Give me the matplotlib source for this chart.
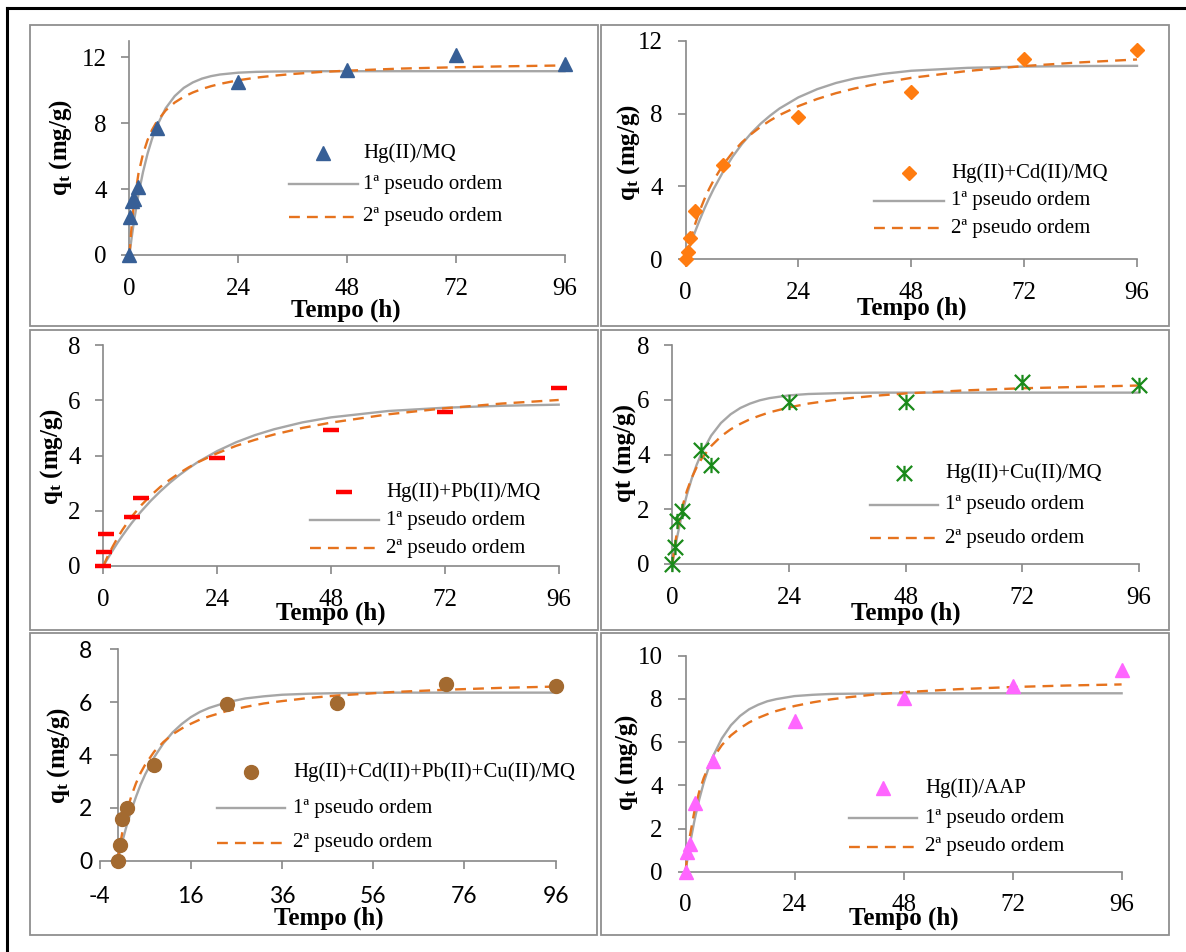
import matplotlib
matplotlib.use('Agg')
import matplotlib.pyplot as plt
from matplotlib.path import Path
from matplotlib.lines import Line2D
from matplotlib.patches import Rectangle

plt.rcParams['font.family'] = ['Liberation Serif', 'DejaVu Serif']
plt.rcParams['mathtext.fontset'] = 'custom'
plt.rcParams['mathtext.rm'] = 'Liberation Serif'
plt.rcParams['mathtext.it'] = 'Liberation Serif:italic'
plt.rcParams['mathtext.bf'] = 'Liberation Serif:bold'
plt.rcParams['axes.unicode_minus'] = False

# ---------------- data ----------------
T_FIT = [0, 0.5, 1, 2, 3, 4, 5, 6, 8, 10, 12, 14, 16, 18, 20, 24, 28, 32, 36, 42, 48, 60, 72, 84, 96]

# Hg(II)/MQ
T_HG = [0, 0.083, 0.5, 1, 2, 6, 24, 48, 72, 96]
Q_HG = [0, 2.28, 3.25, 3.4, 4.1, 7.73, 10.5, 11.2, 12.15, 11.6]
F1_HG = [0, 1.06, 2.02, 3.68, 5.03, 6.14, 7.05, 7.79, 8.90, 9.64, 10.14, 10.47, 10.70, 10.85, 10.95, 11.06, 11.11, 11.13, 11.14, 11.15, 11.15, 11.15, 11.15, 11.15, 11.15]
F2_HG = [0, 1.80, 3.12, 4.94, 6.13, 6.97, 7.59, 8.07, 8.77, 9.25, 9.60, 9.86, 10.07, 10.24, 10.38, 10.60, 10.76, 10.88, 10.98, 11.10, 11.18, 11.31, 11.39, 11.45, 11.50]

# Hg(II)+Cd(II)/MQ
T_CD = [0, 0.5, 1, 2, 8, 24, 48, 72, 96]
Q_CD = [0, 0.42, 1.19, 2.65, 5.18, 7.83, 9.16, 10.97, 11.49]
F1_CD = [0, 0.39, 0.77, 1.49, 2.15, 2.77, 3.34, 3.87, 4.81, 5.63, 6.33, 6.93, 7.45, 7.89, 8.28, 8.89, 9.34, 9.68, 9.93, 10.18, 10.35, 10.51, 10.58, 10.61, 10.62]
F2_CD = [0, 0.54, 1.03, 1.90, 2.65, 3.29, 3.85, 4.35, 5.19, 5.86, 6.42, 6.88, 7.28, 7.62, 7.92, 8.41, 8.80, 9.12, 9.38, 9.70, 9.96, 10.34, 10.61, 10.81, 10.97]

# Hg(II)+Pb(II)/MQ
T_PB = [0, 0.25, 0.5, 6, 8, 24, 48, 72, 96]
Q_PB = [0, 0.51, 1.15, 1.79, 2.45, 3.90, 4.92, 5.56, 6.44]
F1_PB = [0, 0.15, 0.29, 0.57, 0.84, 1.09, 1.33, 1.56, 1.98, 2.36, 2.70, 3.01, 3.29, 3.54, 3.77, 4.16, 4.48, 4.74, 4.95, 5.20, 5.38, 5.61, 5.73, 5.80, 5.84]
F2_PB = [0, 0.19, 0.38, 0.71, 1.02, 1.30, 1.55, 1.79, 2.20, 2.55, 2.86, 3.12, 3.36, 3.57, 3.76, 4.08, 4.35, 4.57, 4.76, 5.00, 5.19, 5.49, 5.71, 5.88, 6.01]

# Hg(II)+Cu(II)/MQ
T_CU = [0, 0.5, 1, 2, 6, 8, 24, 48, 72, 96]
Q_CU = [0, 0.61, 1.58, 1.95, 4.16, 3.61, 5.90, 5.91, 6.64, 6.54]
F1_CU = [0, 0.52, 0.99, 1.83, 2.53, 3.12, 3.62, 4.04, 4.69, 5.15, 5.47, 5.70, 5.86, 5.98, 6.06, 6.16, 6.21, 6.23, 6.25, 6.26, 6.26, 6.26, 6.26, 6.26, 6.26]
F2_CU = [0, 0.66, 1.20, 2.05, 2.67, 3.15, 3.53, 3.84, 4.31, 4.66, 4.92, 5.12, 5.29, 5.42, 5.54, 5.72, 5.86, 5.96, 6.05, 6.15, 6.23, 6.34, 6.42, 6.47, 6.52]

# Hg(II)+Cd(II)+Pb(II)+Cu(II)/MQ
T_MIX = [0, 0.5, 1, 2, 8, 24, 48, 72, 96]
Q_MIX = [0, 0.60, 1.58, 1.98, 3.62, 5.94, 5.97, 6.69, 6.61]
F1_MIX = [0, 0.37, 0.72, 1.36, 1.92, 2.42, 2.87, 3.26, 3.92, 4.44, 4.85, 5.17, 5.43, 5.63, 5.78, 6.00, 6.14, 6.22, 6.28, 6.32, 6.34, 6.36, 6.36, 6.36, 6.36]
F2_MIX = [0, 0.58, 1.07, 1.86, 2.46, 2.93, 3.32, 3.63, 4.13, 4.49, 4.78, 5.00, 5.18, 5.34, 5.46, 5.67, 5.82, 5.95, 6.04, 6.16, 6.25, 6.38, 6.47, 6.54, 6.59]

# Hg(II)/AAP
T_AAP = [0, 0.25, 1, 2, 6, 24, 48, 72, 96]
Q_AAP = [0, 0.90, 1.28, 3.19, 5.12, 6.98, 8.06, 8.60, 9.34]
F1_AAP = [0, 0.68, 1.31, 2.40, 3.33, 4.11, 4.76, 5.32, 6.17, 6.78, 7.21, 7.52, 7.73, 7.89, 7.99, 8.13, 8.19, 8.23, 8.24, 8.25, 8.26, 8.26, 8.26, 8.26, 8.26]
F2_AAP = [0, 0.93, 1.69, 2.84, 3.69, 4.33, 4.83, 5.24, 5.86, 6.31, 6.64, 6.91, 7.12, 7.29, 7.44, 7.67, 7.84, 7.98, 8.08, 8.21, 8.31, 8.45, 8.55, 8.62, 8.67]

LBL_1 = '1ª pseudo ordem'
LBL_2 = '2ª pseudo ordem'
XLABEL = 'Tempo (h)'
YLABEL_T = r'$\mathbf{q_t}$ (mg/g)'
YLABEL_QT = 'qt (mg/g)'

# ---------------- styling ----------------
W, H = 1186, 952
fig = plt.figure(figsize=(W / 100, H / 100), dpi=100)
fig.patch.set_facecolor('white')

AX_GREY = '#878787'
FRAME_GREY = '#8F8F8F'
FIT1_COLOR = '#A6A6A6'
FIT2_COLOR = '#E6731E'
TICK_FS = 18
SANS_FS = 16.5
LEG_FS = 15
LAB_FS = 18
DASH = [4.6, 3.0]

star = Path([(-1, -1), (1, 1), (-1, 1), (1, -1), (0, -1), (0, 1)],
            [Path.MOVETO, Path.LINETO, Path.MOVETO, Path.LINETO, Path.MOVETO, Path.LINETO])


def fx(x):
    return x / W


def fy(y):
    return 1 - y / H


def frame(x0, y0, x1, y1):
    fig.add_artist(Rectangle((fx(x0), fy(y1)), (x1 - x0) / W, (y1 - y0) / H, fill=False,
                             ec=FRAME_GREY, lw=1.3, transform=fig.transFigure))


def panel(px, xlim, ylim, xticks, yticks, t, q, mk, f1, f2, leg, names, ylabel, ylab_xy, xlab_xy,
          sans_ticks=False, spine_at_zero=False):
    xl, xr, yb, yt = px
    ax = fig.add_axes([fx(xl), fy(yb), (xr - xl) / W, (yb - yt) / H])
    ax.set_xlim(*xlim)
    ax.set_ylim(*ylim)
    ax.patch.set_visible(False)
    for s in ('top', 'right'):
        ax.spines[s].set_visible(False)
    for s in ('left', 'bottom'):
        ax.spines[s].set_color(AX_GREY)
        ax.spines[s].set_linewidth(1.2)
    if spine_at_zero:
        ax.spines['left'].set_position(('data', 0))
        ax.spines['left'].set_bounds(0, ylim[1])
    ax.set_xticks(xticks)
    ax.set_yticks(yticks)
    pad = 12.5 if sans_ticks else 10.5
    ax.tick_params(direction='out', length=5.8, width=1.2, color=AX_GREY,
                   labelsize=SANS_FS if sans_ticks else TICK_FS, pad=pad, labelcolor='black')
    if sans_ticks:
        for lab in ax.get_xticklabels() + ax.get_yticklabels():
            lab.set_fontfamily(['Lato', 'DejaVu Sans'])
    ax.plot(T_FIT, f1, color=FIT1_COLOR, lw=1.7, zorder=3, clip_on=False)
    l2, = ax.plot(T_FIT, f2, color=FIT2_COLOR, lw=1.7, zorder=3, clip_on=False)
    l2.set_dashes(DASH)
    ax.plot(t, q, linestyle='none', zorder=4, clip_on=False, **mk)

    # legend (manual placement)
    mx, my, lx0, lx1, tx, ys = leg
    fig.add_artist(Line2D([fx(mx)], [fy(my)], linestyle='none', transform=fig.transFigure, **mk))
    fig.add_artist(Line2D([fx(lx0), fx(lx1)], [fy(ys[1])] * 2, color=FIT1_COLOR, lw=1.7,
                          transform=fig.transFigure))
    ln = Line2D([fx(lx0), fx(lx1)], [fy(ys[2])] * 2, color=FIT2_COLOR, lw=1.7,
                transform=fig.transFigure)
    ln.set_dashes(DASH)
    fig.add_artist(ln)
    for txt, yy in zip(names, ys):
        fig.text(fx(tx), fy(yy), txt, fontsize=LEG_FS, ha='left', va='center')

    fig.text(fx(ylab_xy[0]), fy(ylab_xy[1]), ylabel, fontsize=LAB_FS, fontweight='bold',
             rotation=90, ha='center', va='center')
    fig.text(fx(xlab_xy[0]), fy(xlab_xy[1]), XLABEL, fontsize=LAB_FS, fontweight='bold',
             ha='center', va='center')
    return ax


# outer black frame (top and left edges visible)
fig.add_artist(Line2D([fx(7), 1.0], [fy(8), fy(8)], color='black', lw=2.2, transform=fig.transFigure))
fig.add_artist(Line2D([fx(7), fx(7)], [fy(8), 0.0], color='black', lw=2.2, transform=fig.transFigure))

# panel frames
frame(29.5, 24.5, 598, 326)
frame(601, 24.5, 1169, 326)
frame(29.5, 330, 598, 630)
frame(601, 330, 1169, 630)
frame(29.5, 633, 597, 935)
frame(601, 633, 1169, 935)

XT = [0, 24, 48, 72, 96]

# panel 1
panel((129.4, 564.5, 255, 40.7), (0, 96), (0, 13), XT, [0, 4, 8, 12], T_HG, Q_HG,
      dict(marker='^', ms=10.5, color='#375F96', mec='#375F96'), F1_HG, F2_HG,
      (323, 153, 289, 358, 363, (153, 184, 217)), ['Hg(II)/MQ', LBL_1, LBL_2],
      YLABEL_T, (61, 147), (346, 310))

# panel 2
panel((685.5, 1137, 259.3, 40.7), (0, 96), (0, 12), XT, [0, 4, 8, 12], T_CD, Q_CD,
      dict(marker='D', ms=7, color='#FF7C10', mec='#FF7C10'), F1_CD, F2_CD,
      (909, 173, 874, 944, 951, (173, 201, 228)), ['Hg(II)+Cd(II)/MQ', LBL_1, LBL_2],
      YLABEL_T, (629, 152), (912, 308))

# panel 3
panel((103.3, 558.7, 566, 345), (0, 96), (0, 8), XT, [0, 2, 4, 6, 8], T_PB, Q_PB,
      dict(marker='_', ms=11, mew=3.2, color='#FF0000', mec='#FF0000'), F1_PB, F2_PB,
      (344, 492, 310, 379, 386.5, (492, 520, 548)), ['Hg(II)+Pb(II)/MQ', LBL_1, LBL_2],
      YLABEL_T, (52, 456), (331, 613))

# panel 4
panel((672.3, 1139, 564, 345), (0, 96), (0, 8), XT, [0, 2, 4, 6, 8], T_CU, Q_CU,
      dict(marker=star, ms=11, mew=1.6, color='#1A8A1A', mec='#1A8A1A', mfc='none'), F1_CU, F2_CU,
      (904, 473, 870, 938, 945.5, (473, 505, 538)), ['Hg(II)+Cu(II)/MQ', LBL_1, LBL_2],
      YLABEL_QT, (625, 453), (906, 613))

# panel 5
panel((99.5, 555.7, 860.7, 649.3), (-4, 96), (0, 8), [-4, 16, 36, 56, 76, 96], [0, 2, 4, 6, 8],
      T_MIX, Q_MIX, dict(marker='o', ms=10, color='#A36A30', mec='#A36A30'), F1_MIX, F2_MIX,
      (251, 772, 217, 285, 293, (772, 808, 843)), ['Hg(II)+Cd(II)+Pb(II)+Cu(II)/MQ', LBL_1, LBL_2],
      YLABEL_T, (59, 755), (329, 918), sans_ticks=True, spine_at_zero=True)

# panel 6
panel((685.5, 1121.6, 871.7, 655.7), (0, 96), (0, 10), XT, [0, 2, 4, 6, 8, 10], T_AAP, Q_AAP,
      dict(marker='^', ms=10.5, color='#FF66FF', mec='#FF66FF'), F1_AAP, F2_AAP,
      (883, 788, 849, 917, 925, (788, 818, 847)), ['Hg(II)/AAP', LBL_1, LBL_2],
      YLABEL_T, (627, 762), (904, 918))

fig.savefig('out.png', dpi=100, facecolor='white')
